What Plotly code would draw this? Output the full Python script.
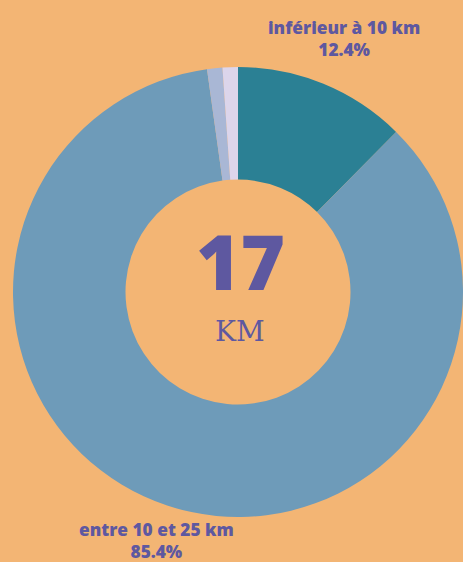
import plotly.graph_objects as go

labels = ["inférieur à 10 km", "entre 10 et 25 km", "entre 25 et 50 km", "supérieur à 50 km"]
values = [12.4, 85.4, 1.1, 1.1]
colors = ["#2B8094", "#6E9BB9", "#A9B7D5", "#DCD5EB"]
shown_labels = [0, 1]
center_value = "17"
center_unit = "KM"

W, H = 463, 562
BG = "#F3B574"
PURPLE = "#5E58A0"

fig = go.Figure(go.Pie(
    labels=labels,
    values=values,
    marker=dict(colors=colors, line=dict(width=0)),
    hole=0.5,
    sort=False,
    direction="clockwise",
    rotation=0,
    textinfo="none",
    hoverinfo="label+percent",
    showlegend=False,
    domain=dict(x=[13 / W, 1], y=[1 - 517 / H, 1 - 67 / H]),
))

label_pos = {0: (343.5, 38), 1: (156, 540)}
annotations = []
for i in shown_labels:
    x, y = label_pos[i]
    annotations.append(dict(
        x=x / W, y=1 - y / H, xref="paper", yref="paper",
        xanchor="center", yanchor="middle",
        text=f"{labels[i]}<br>{values[i]:.1f}%",
        showarrow=False, align="center",
        font=dict(family="Open Sans", size=17.3, color=PURPLE, weight=800),
    ))

annotations.append(dict(
    x=240 / W, y=1 - 260 / H, xref="paper", yref="paper",
    xanchor="center", yanchor="middle",
    text=center_value, showarrow=False,
    font=dict(family="Open Sans", size=76, color=PURPLE, weight=800),
))
annotations.append(dict(
    x=240 / W, y=1 - 331 / H, xref="paper", yref="paper",
    xanchor="center", yanchor="middle",
    text=center_unit, showarrow=False,
    font=dict(family="DejaVu Serif", size=28, color=PURPLE),
))

fig.update_layout(
    width=W, height=H,
    margin=dict(l=0, r=0, t=0, b=0),
    paper_bgcolor=BG, plot_bgcolor=BG,
    annotations=annotations,
)

fig.write_html(
    "out.html",
    config={"displayModeBar": False},
    post_script="document.body.style.margin='0';document.body.style.overflow='hidden';",
)
